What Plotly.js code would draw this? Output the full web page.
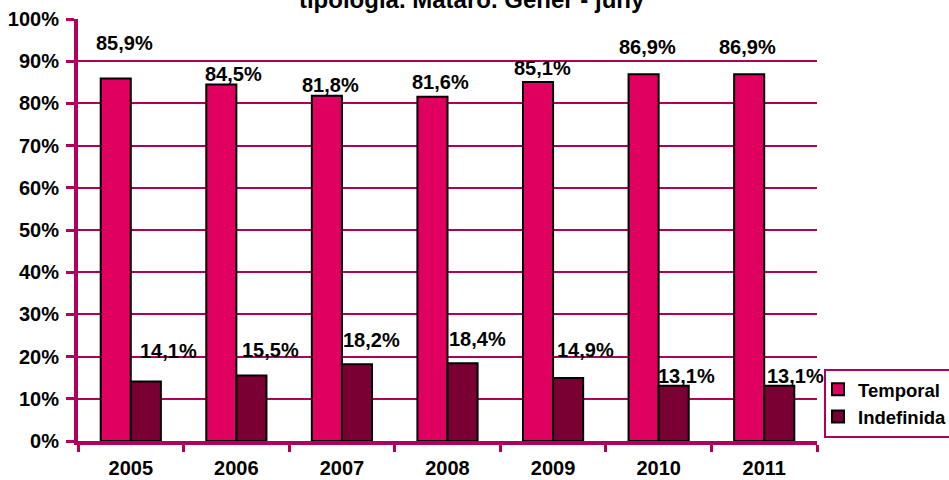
<!DOCTYPE html>
<html>
<head>
<meta charset="utf-8">
<script src="https://cdn.plot.ly/plotly-3.0.1.min.js"></script>
<style>html,body{margin:0;padding:0;background:#fff;}#chart{width:949px;height:480px;}</style>
</head>
<body>
<div id="chart"></div>
<script>
// ---- data ----
const years = ['2005', '2006', '2007', '2008', '2009', '2010', '2011'];
const temporal = [85.9, 84.5, 81.8, 81.6, 85.1, 86.9, 86.9];
const indefinida = [14.1, 15.5, 18.2, 18.4, 14.9, 13.1, 13.1];
const seriesNames = ['Temporal', 'Indefinida'];
const yTicks = [0, 10, 20, 30, 40, 50, 60, 70, 80, 90, 100];
const titleText = 'tipologia. Mataró. Gener - juny';

// ---- label nudges (pixels, as manually placed in the original) ----
const tempNudgeX = [-6, -3, -11, -7, -11, -11, -17];
const tempNudgeY = [36, 10, 11, 15, 14, 27, 27];
const indNudgeX = [38, 34, 30, 30, 32, 28, 31];
const indNudgeY = [31, 26, 24, 24, 28, 10, 10];

const FONT = '"Liberation Sans", Arial, sans-serif';
const MAG = '#b0005a';
const fmt = v => v.toFixed(1).replace('.', ',') + '%';

const traces = [
  {type: 'bar', name: seriesNames[0], x: years, y: temporal,
   marker: {color: '#e0005f', line: {color: '#000', width: 2}}, hoverinfo: 'skip'},
  {type: 'bar', name: seriesNames[1], x: years, y: indefinida,
   marker: {color: '#7a0034', line: {color: '#000', width: 2}}, hoverinfo: 'skip'}
];

const annotations = [];
years.forEach((yr, i) => {
  annotations.push({x: i, y: temporal[i], xref: 'x', yref: 'y', text: fmt(temporal[i]), showarrow: false,
    xanchor: 'center', yanchor: 'middle', xshift: tempNudgeX[i], yshift: tempNudgeY[i],
    font: {family: FONT, size: 20, color: '#000', weight: 'bold'}});
  annotations.push({x: i, y: indefinida[i], xref: 'x', yref: 'y', text: fmt(indefinida[i]), showarrow: false,
    xanchor: 'center', yanchor: 'middle', xshift: indNudgeX[i], yshift: indNudgeY[i],
    font: {family: FONT, size: 20, color: '#000', weight: 'bold'}});
});

const layout = {
  width: 949, height: 480,
  margin: {l: 78, r: 132, t: 19, b: 39, pad: 0, autoexpand: false},
  paper_bgcolor: '#fff', plot_bgcolor: '#fff',
  font: {family: FONT, color: '#000'},
  title: {text: titleText, x: 0.497, xref: 'container', y: 1, yref: 'container', yanchor: 'middle',
    font: {family: FONT, size: 24, color: '#000', weight: 'bold'}},
  barmode: 'group', bargap: 0.43, bargroupgap: 0,
  xaxis: {type: 'category', range: [-0.5, years.length - 0.5], showline: true, linecolor: MAG, linewidth: 4,
    ticks: 'outside', tickson: 'boundaries', ticklen: 7, tickwidth: 3, tickcolor: MAG,
    showgrid: false, ticklabelstandoff: 6,
    tickfont: {family: FONT, size: 20, color: '#000', weight: 'bold'}},
  yaxis: {range: [0, 100], tickvals: yTicks, ticktext: yTicks.map(v => v + '%'),
    showline: true, linecolor: MAG, linewidth: 4,
    ticks: 'outside', ticklen: 8, tickwidth: 3, tickcolor: MAG,
    showgrid: true, gridcolor: MAG, gridwidth: 2, zeroline: false, ticklabelstandoff: 3,
    tickfont: {family: FONT, size: 20, color: '#000', weight: 'bold'}},
  legend: {x: 1.0095, xanchor: 'left', y: 0.171, yanchor: 'top', bgcolor: '#fff',
    bordercolor: MAG, borderwidth: 2, indentation: -8,
    font: {family: FONT, size: 18.5, color: '#000', weight: 'bold'}},
  annotations: annotations,
  showlegend: true
};

Plotly.newPlot('chart', traces, layout, {staticPlot: true, displayModeBar: false});
</script>
</body>
</html>
